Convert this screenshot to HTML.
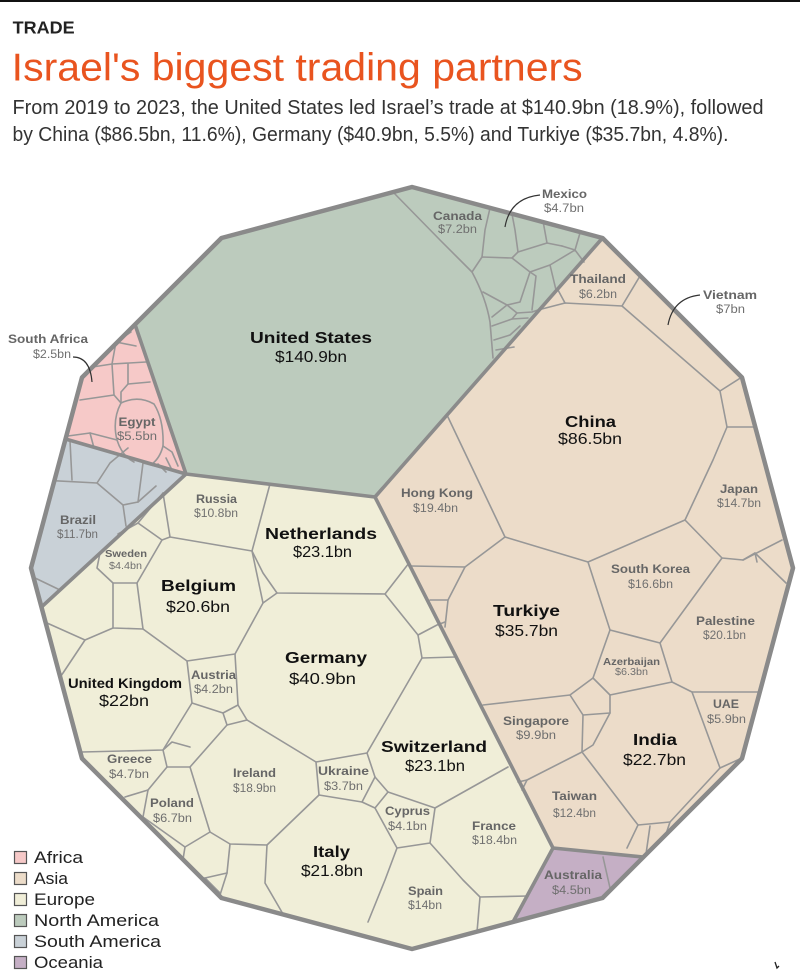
<!DOCTYPE html>
<html><head><meta charset="utf-8"><style>
html,body{margin:0;padding:0;background:#fff;}
svg{display:block;}
text{font-family:"Liberation Sans",sans-serif;}
</style></head><body>
<svg width="800" height="973" viewBox="0 0 800 973" xmlns="http://www.w3.org/2000/svg">
<rect x="0" y="0" width="800" height="973" fill="#fff"/>
<rect x="0" y="0" width="800" height="2" fill="#111"/>
<text x="12.7" y="33.3" font-size="17.5" font-weight="bold" fill="#222" textLength="62" lengthAdjust="spacingAndGlyphs">TRADE</text>
<text x="11.7" y="80.5" font-size="39" fill="#e9541f" textLength="571" lengthAdjust="spacingAndGlyphs">Israel's biggest trading partners</text>
<text x="12.5" y="114" font-size="20" fill="#333" textLength="751" lengthAdjust="spacingAndGlyphs">From 2019 to 2023, the United States led Israel’s trade at $140.9bn (18.9%), followed</text>
<text x="12.5" y="141" font-size="20" fill="#333" textLength="716" lengthAdjust="spacingAndGlyphs">by China ($86.5bn, 11.6%), Germany ($40.9bn, 5.5%) and Turkiye ($35.7bn, 4.8%).</text>

<defs>
<clipPath id="dd"><polygon points="412,187 602.5,238 742,377.5 793,568 742,758.5 602.5,898 412,949 221.5,898 82,758.5 31,568 82,377.5 221.5,238"/></clipPath>
</defs>

<g clip-path="url(#dd)">
<!-- region fills -->
<polygon fill="#bccbbd" points="135,324.5 221.5,238 412,187 602.5,238 375,497 186,474"/>
<polygon fill="#f6c9c8" points="82,377.5 135,324.5 186,474 65.5,439"/>
<polygon fill="#c9d1d7" points="65.5,439 186,474 41.5,607 31,568"/>
<polygon fill="#f0eed8" points="186,474 375,497 553,848 513,922 412,949 221.5,898 82,758.5 41.5,607"/>
<polygon fill="#ecdcc9" points="602.5,238 742,377.5 793,568 742,758.5 643,857 553,848 375,497"/>
<polygon fill="#c5afc5" points="553,848 643,857 602.5,898 513,922"/>

<!-- thin cell lines -->
<g fill="none" stroke="#979797" stroke-width="1.6" stroke-linejoin="round" stroke-linecap="round">
<!-- North America -->
<path d="M393,192 L440,240 L472,272 Q486,298 490,322 L493,358"/>
<path d="M472,272 L482,257 L512,258 L518,252 L547,243 L562,246"/>
<path d="M482,257 L485,230 L490,208"/>
<path d="M518,252 L515,230 L512,214"/>
<path d="M547,243 L543,221"/>
<path d="M562,246 L575,250 L580,233"/>
<path d="M512,258 L530,272 L550,265 L575,250 L584,262"/>
<path d="M530,272 L520,302 L507,305 L483,292"/>
<path d="M530,272 L536,276 L532,310"/>
<path d="M550,265 L556,290"/>
<path d="M507,305 L492,317"/>
<path d="M507,305 L517,313 L532,312 L538,310"/>
<path d="M492,326 L512,319 L528,318"/>
<path d="M494,340 L510,335 L520,326"/>
<path d="M496,350 L514,347"/>
<path d="M517,313 L512,319"/>
<!-- Africa -->
<path d="M86,368 L112,364 L116,342 L131,332"/>
<path d="M116,342 L136,346"/>
<path d="M112,364 L146,362"/>
<path d="M112,364 L114,395 L80,400"/>
<path d="M114,395 L121,403"/>
<path d="M128,364 L128,384 L121,392 L121,403"/>
<path d="M128,384 L150,382"/>
<path d="M121,403 Q138,395 154,404 Q164,420 163,446 Q160,458 152,464"/>
<path d="M121,403 Q112,420 117,440 Q122,456 134,462"/>
<path d="M68,436 L90,433 L117,440"/>
<path d="M90,433 L94,448"/>
<path d="M163,446 L172,452 L178,466"/>
<path d="M166,458 L172,470"/>
<path d="M158,464 L166,472"/>
<!-- South America -->
<path d="M70,441 L72,480"/>
<path d="M40,480 L97,483 L110,463 L128,448"/>
<path d="M97,483 L123,505 L126,526"/>
<path d="M123,505 L138,502 L143,463"/>
<path d="M138,502 L156,486"/>
<path d="M143,463 L162,468"/>
<path d="M33,577 L60,590"/>
<!-- Europe -->
<path d="M163,493 L170,537 L252,551 L270,484"/>
<path d="M138,523 L163,493"/>
<path d="M138,523 L162,540 L170,537"/>
<path d="M138,523 L118,534"/>
<path d="M162,540 L137,583 L113,583 L97,568 L100,553"/>
<path d="M137,583 L143,629 L187,661 L235,654 L263,603 L252,551"/>
<path d="M113,583 L113,628 L143,629"/>
<path d="M47,623 L85,640 L113,628"/>
<path d="M85,640 L63,673 L58,680"/>
<path d="M187,661 L192,703 L163,750 L82,752"/>
<path d="M252,551 L263,573 L277,593 L385,594 L409,563"/>
<path d="M263,603 L277,593"/>
<path d="M385,594 L418,635 L422,658 L367,753 L316,762 L247,720 L238,705 L235,654"/>
<path d="M418,635 L437,625 L445,622"/>
<path d="M422,658 L455,657"/>
<path d="M238,705 L223,713 L192,703"/>
<path d="M367,753 L375,777 L388,792 L435,808 L508,767"/>
<path d="M316,762 L319,795 L362,802 L375,777"/>
<path d="M362,802 L375,808 L388,792"/>
<path d="M375,808 L397,848 L430,843 L435,808"/>
<path d="M430,843 L463,880 L480,897 L528,896"/>
<path d="M480,897 L477,932"/>
<path d="M319,795 L267,845 L265,883 L283,914"/>
<path d="M397,848 L385,880 L368,922"/>
<path d="M247,720 L227,725 L190,767"/>
<path d="M227,725 L223,713"/>
<path d="M190,767 L210,832 L230,844 L267,845"/>
<path d="M230,844 L227,873 L220,895"/>
<path d="M163,750 L167,767 L148,790 L125,797"/>
<path d="M167,767 L190,767"/>
<path d="M148,790 L143,817 L185,847 L210,832"/>
<path d="M185,847 L180,878 L205,878 L220,893"/>
<path d="M205,878 L227,873"/>
<path d="M143,817 L128,826"/>
<path d="M180,878 L172,884"/>
<path d="M163,750 L172,742 L190,747"/>
<!-- Asia -->
<path d="M538,310 L565,303 L622,306 L720,391 L727,427 L713,460 L685,520 L588,562 L505,537 L447,415"/>
<path d="M565,303 L558,290"/>
<path d="M622,306 L640,276"/>
<path d="M720,391 L742,377"/>
<path d="M727,427 L756,427"/>
<path d="M685,520 L722,558 L743,560 L782,540"/>
<path d="M743,560 L755,553 L786,583"/>
<path d="M755,553 L757,562"/>
<path d="M722,558 L660,643 L610,630 L588,562"/>
<path d="M660,643 L672,682 L692,692 L758,692"/>
<path d="M692,692 L720,768 L742,758"/>
<path d="M610,630 L593,678 L610,695 L672,682"/>
<path d="M593,678 L570,695 L483,705"/>
<path d="M570,695 L583,715 L610,713 L610,695"/>
<path d="M610,713 L593,745 L582,752"/>
<path d="M583,715 L582,752 L638,825 L670,822 L720,768"/>
<path d="M582,752 L527,780 L518,782"/>
<path d="M638,825 L627,848"/>
<path d="M670,822 L660,852"/>
<path d="M650,826 L646,854"/>
<path d="M505,537 L465,567 L411,566"/>
<path d="M465,567 L448,600 L430,600"/>
<path d="M448,600 L445,627"/>
<path d="M527,780 L522,790"/>
<!-- Oceania -->
<path d="M603,857 L610,888"/>
</g>

<!-- region boundaries -->
<g fill="none" stroke="#8b8b8b" stroke-width="3.6" stroke-linejoin="round" stroke-linecap="round">
<path d="M135,324.5 L186,474 L375,497 L602.5,238"/>
<path d="M65.5,439 L186,474 L41.5,607"/>
<path d="M375,497 L553,848 L643,857"/>
<path d="M553,848 L513,922"/>
</g>
</g>

<!-- outline -->
<polygon fill="none" stroke="#8a8a8a" stroke-width="4.5" stroke-linejoin="round" points="412,187 602.5,238 742,377.5 793,568 742,758.5 602.5,898 412,949 221.5,898 82,758.5 31,568 82,377.5 221.5,238"/>

<!-- pointers -->
<g fill="none" stroke="#333" stroke-width="1.2">
<path d="M73,357 Q90,357 92,382"/>
<path d="M540,195 Q510,198 505,227"/>
<path d="M700,295 Q673,298 668,325"/>
</g>

<!-- big labels -->
<g fill="#111" text-anchor="middle" font-size="16">
<text x="311" y="343" font-weight="bold" textLength="122" lengthAdjust="spacingAndGlyphs">United States</text>
<text x="311" y="362" textLength="72" lengthAdjust="spacingAndGlyphs">$140.9bn</text>
<text x="590.5" y="427" font-weight="bold" textLength="51" lengthAdjust="spacingAndGlyphs">China</text>
<text x="590" y="444" textLength="64" lengthAdjust="spacingAndGlyphs">$86.5bn</text>
<text x="326" y="663" font-weight="bold" textLength="82" lengthAdjust="spacingAndGlyphs">Germany</text>
<text x="322.5" y="684" textLength="67" lengthAdjust="spacingAndGlyphs">$40.9bn</text>
<text x="434" y="752" font-weight="bold" textLength="106" lengthAdjust="spacingAndGlyphs">Switzerland</text>
<text x="435" y="771" textLength="60" lengthAdjust="spacingAndGlyphs">$23.1bn</text>
<text x="526.5" y="616" font-weight="bold" textLength="67" lengthAdjust="spacingAndGlyphs">Turkiye</text>
<text x="526.5" y="636" textLength="63" lengthAdjust="spacingAndGlyphs">$35.7bn</text>
<text x="321" y="539" font-weight="bold" textLength="112" lengthAdjust="spacingAndGlyphs">Netherlands</text>
<text x="322.5" y="557" textLength="59" lengthAdjust="spacingAndGlyphs">$23.1bn</text>
<text x="198.5" y="591" font-weight="bold" textLength="75" lengthAdjust="spacingAndGlyphs">Belgium</text>
<text x="198" y="612" textLength="64" lengthAdjust="spacingAndGlyphs">$20.6bn</text>
<text x="125" y="688" font-weight="bold" font-size="13.5" textLength="114" lengthAdjust="spacingAndGlyphs">United Kingdom</text>
<text x="124" y="706" textLength="50" lengthAdjust="spacingAndGlyphs">$22bn</text>
<text x="655" y="745" font-weight="bold" textLength="44" lengthAdjust="spacingAndGlyphs">India</text>
<text x="654.5" y="765" textLength="63" lengthAdjust="spacingAndGlyphs">$22.7bn</text>
<text x="331.5" y="857" font-weight="bold" textLength="37" lengthAdjust="spacingAndGlyphs">Italy</text>
<text x="332" y="876" textLength="62" lengthAdjust="spacingAndGlyphs">$21.8bn</text>
</g>

<!-- small labels -->
<g text-anchor="middle">
<g fill="#666" font-size="12" font-weight="bold">
<text x="457.5" y="220" textLength="49" lengthAdjust="spacingAndGlyphs">Canada</text>
<text x="564.5" y="198" textLength="45" lengthAdjust="spacingAndGlyphs">Mexico</text>
<text x="598" y="283" textLength="56" lengthAdjust="spacingAndGlyphs">Thailand</text>
<text x="730" y="299" textLength="54" lengthAdjust="spacingAndGlyphs">Vietnam</text>
<text x="437" y="497" textLength="72" lengthAdjust="spacingAndGlyphs">Hong Kong</text>
<text x="739" y="493" textLength="38" lengthAdjust="spacingAndGlyphs">Japan</text>
<text x="650.5" y="573" textLength="79" lengthAdjust="spacingAndGlyphs">South Korea</text>
<text x="725.5" y="625" textLength="59" lengthAdjust="spacingAndGlyphs">Palestine</text>
<text x="631.5" y="665" font-size="10.5" textLength="57" lengthAdjust="spacingAndGlyphs">Azerbaijan</text>
<text x="726" y="708" textLength="26" lengthAdjust="spacingAndGlyphs">UAE</text>
<text x="536" y="725" textLength="66" lengthAdjust="spacingAndGlyphs">Singapore</text>
<text x="574.5" y="800" textLength="45" lengthAdjust="spacingAndGlyphs">Taiwan</text>
<text x="573" y="879" textLength="58" lengthAdjust="spacingAndGlyphs">Australia</text>
<text x="494" y="830" textLength="44" lengthAdjust="spacingAndGlyphs">France</text>
<text x="425.5" y="895" textLength="35" lengthAdjust="spacingAndGlyphs">Spain</text>
<text x="407.5" y="815" textLength="45" lengthAdjust="spacingAndGlyphs">Cyprus</text>
<text x="343.5" y="775" textLength="51" lengthAdjust="spacingAndGlyphs">Ukraine</text>
<text x="254.5" y="777" textLength="43" lengthAdjust="spacingAndGlyphs">Ireland</text>
<text x="213.5" y="679" textLength="45" lengthAdjust="spacingAndGlyphs">Austria</text>
<text x="216.5" y="503" textLength="41" lengthAdjust="spacingAndGlyphs">Russia</text>
<text x="126" y="557" font-size="10" textLength="42" lengthAdjust="spacingAndGlyphs">Sweden</text>
<text x="78" y="524" textLength="36" lengthAdjust="spacingAndGlyphs">Brazil</text>
<text x="129.5" y="763" textLength="45" lengthAdjust="spacingAndGlyphs">Greece</text>
<text x="172" y="807" textLength="44" lengthAdjust="spacingAndGlyphs">Poland</text>
<text x="137" y="426" textLength="37" lengthAdjust="spacingAndGlyphs">Egypt</text>
<text x="48" y="343" textLength="80" lengthAdjust="spacingAndGlyphs">South Africa</text>
</g>
<g fill="#707070" font-size="11.5">
<text x="457.5" y="233" textLength="39" lengthAdjust="spacingAndGlyphs">$7.2bn</text>
<text x="564" y="212" textLength="40" lengthAdjust="spacingAndGlyphs">$4.7bn</text>
<text x="598" y="298" textLength="38" lengthAdjust="spacingAndGlyphs">$6.2bn</text>
<text x="730.5" y="313" textLength="29" lengthAdjust="spacingAndGlyphs">$7bn</text>
<text x="435.5" y="512" textLength="45" lengthAdjust="spacingAndGlyphs">$19.4bn</text>
<text x="739" y="507" textLength="44" lengthAdjust="spacingAndGlyphs">$14.7bn</text>
<text x="650.5" y="588" textLength="45" lengthAdjust="spacingAndGlyphs">$16.6bn</text>
<text x="724.5" y="639" textLength="43" lengthAdjust="spacingAndGlyphs">$20.1bn</text>
<text x="631.5" y="675" font-size="10" textLength="33" lengthAdjust="spacingAndGlyphs">$6.3bn</text>
<text x="726.5" y="723" textLength="39" lengthAdjust="spacingAndGlyphs">$5.9bn</text>
<text x="536" y="739" textLength="40" lengthAdjust="spacingAndGlyphs">$9.9bn</text>
<text x="574.5" y="817" textLength="43" lengthAdjust="spacingAndGlyphs">$12.4bn</text>
<text x="571.5" y="894" textLength="39" lengthAdjust="spacingAndGlyphs">$4.5bn</text>
<text x="494.5" y="844" textLength="45" lengthAdjust="spacingAndGlyphs">$18.4bn</text>
<text x="425" y="909" textLength="34" lengthAdjust="spacingAndGlyphs">$14bn</text>
<text x="407.5" y="830" textLength="39" lengthAdjust="spacingAndGlyphs">$4.1bn</text>
<text x="343.5" y="790" textLength="39" lengthAdjust="spacingAndGlyphs">$3.7bn</text>
<text x="254.5" y="792" textLength="43" lengthAdjust="spacingAndGlyphs">$18.9bn</text>
<text x="213.5" y="693" textLength="39" lengthAdjust="spacingAndGlyphs">$4.2bn</text>
<text x="216" y="517" textLength="44" lengthAdjust="spacingAndGlyphs">$10.8bn</text>
<text x="125.5" y="569" font-size="10" textLength="33" lengthAdjust="spacingAndGlyphs">$4.4bn</text>
<text x="77.5" y="538" textLength="41" lengthAdjust="spacingAndGlyphs">$11.7bn</text>
<text x="129" y="778" textLength="40" lengthAdjust="spacingAndGlyphs">$4.7bn</text>
<text x="172.5" y="822" textLength="39" lengthAdjust="spacingAndGlyphs">$6.7bn</text>
<text x="137" y="440" textLength="40" lengthAdjust="spacingAndGlyphs">$5.5bn</text>
<text x="52" y="358" textLength="38" lengthAdjust="spacingAndGlyphs">$2.5bn</text>
</g>
</g>

<!-- legend -->
<g stroke="#555" stroke-width="1.2">
<rect x="14.5" y="851.5" width="12" height="12" fill="#f6c9c8"/>
<rect x="14.5" y="872.5" width="12" height="12" fill="#ecdcc9"/>
<rect x="14.5" y="893.5" width="12" height="12" fill="#f0eed8"/>
<rect x="14.5" y="914.5" width="12" height="12" fill="#bccbbd"/>
<rect x="14.5" y="935.5" width="12" height="12" fill="#c9d1d7"/>
<rect x="14.5" y="956.5" width="12" height="12" fill="#c5afc5"/>
</g>
<g fill="#222" font-size="16.5">
<text x="34" y="863" textLength="49" lengthAdjust="spacingAndGlyphs">Africa</text>
<text x="34" y="884" textLength="34" lengthAdjust="spacingAndGlyphs">Asia</text>
<text x="34" y="905" textLength="61" lengthAdjust="spacingAndGlyphs">Europe</text>
<text x="34" y="926" textLength="125" lengthAdjust="spacingAndGlyphs">North America</text>
<text x="34" y="947" textLength="127" lengthAdjust="spacingAndGlyphs">South America</text>
<text x="34" y="968" textLength="69" lengthAdjust="spacingAndGlyphs">Oceania</text>
</g>
<path d="M775,962 L777,968 L779,966" fill="none" stroke="#222" stroke-width="1.3"/>
</svg>
</body></html>
